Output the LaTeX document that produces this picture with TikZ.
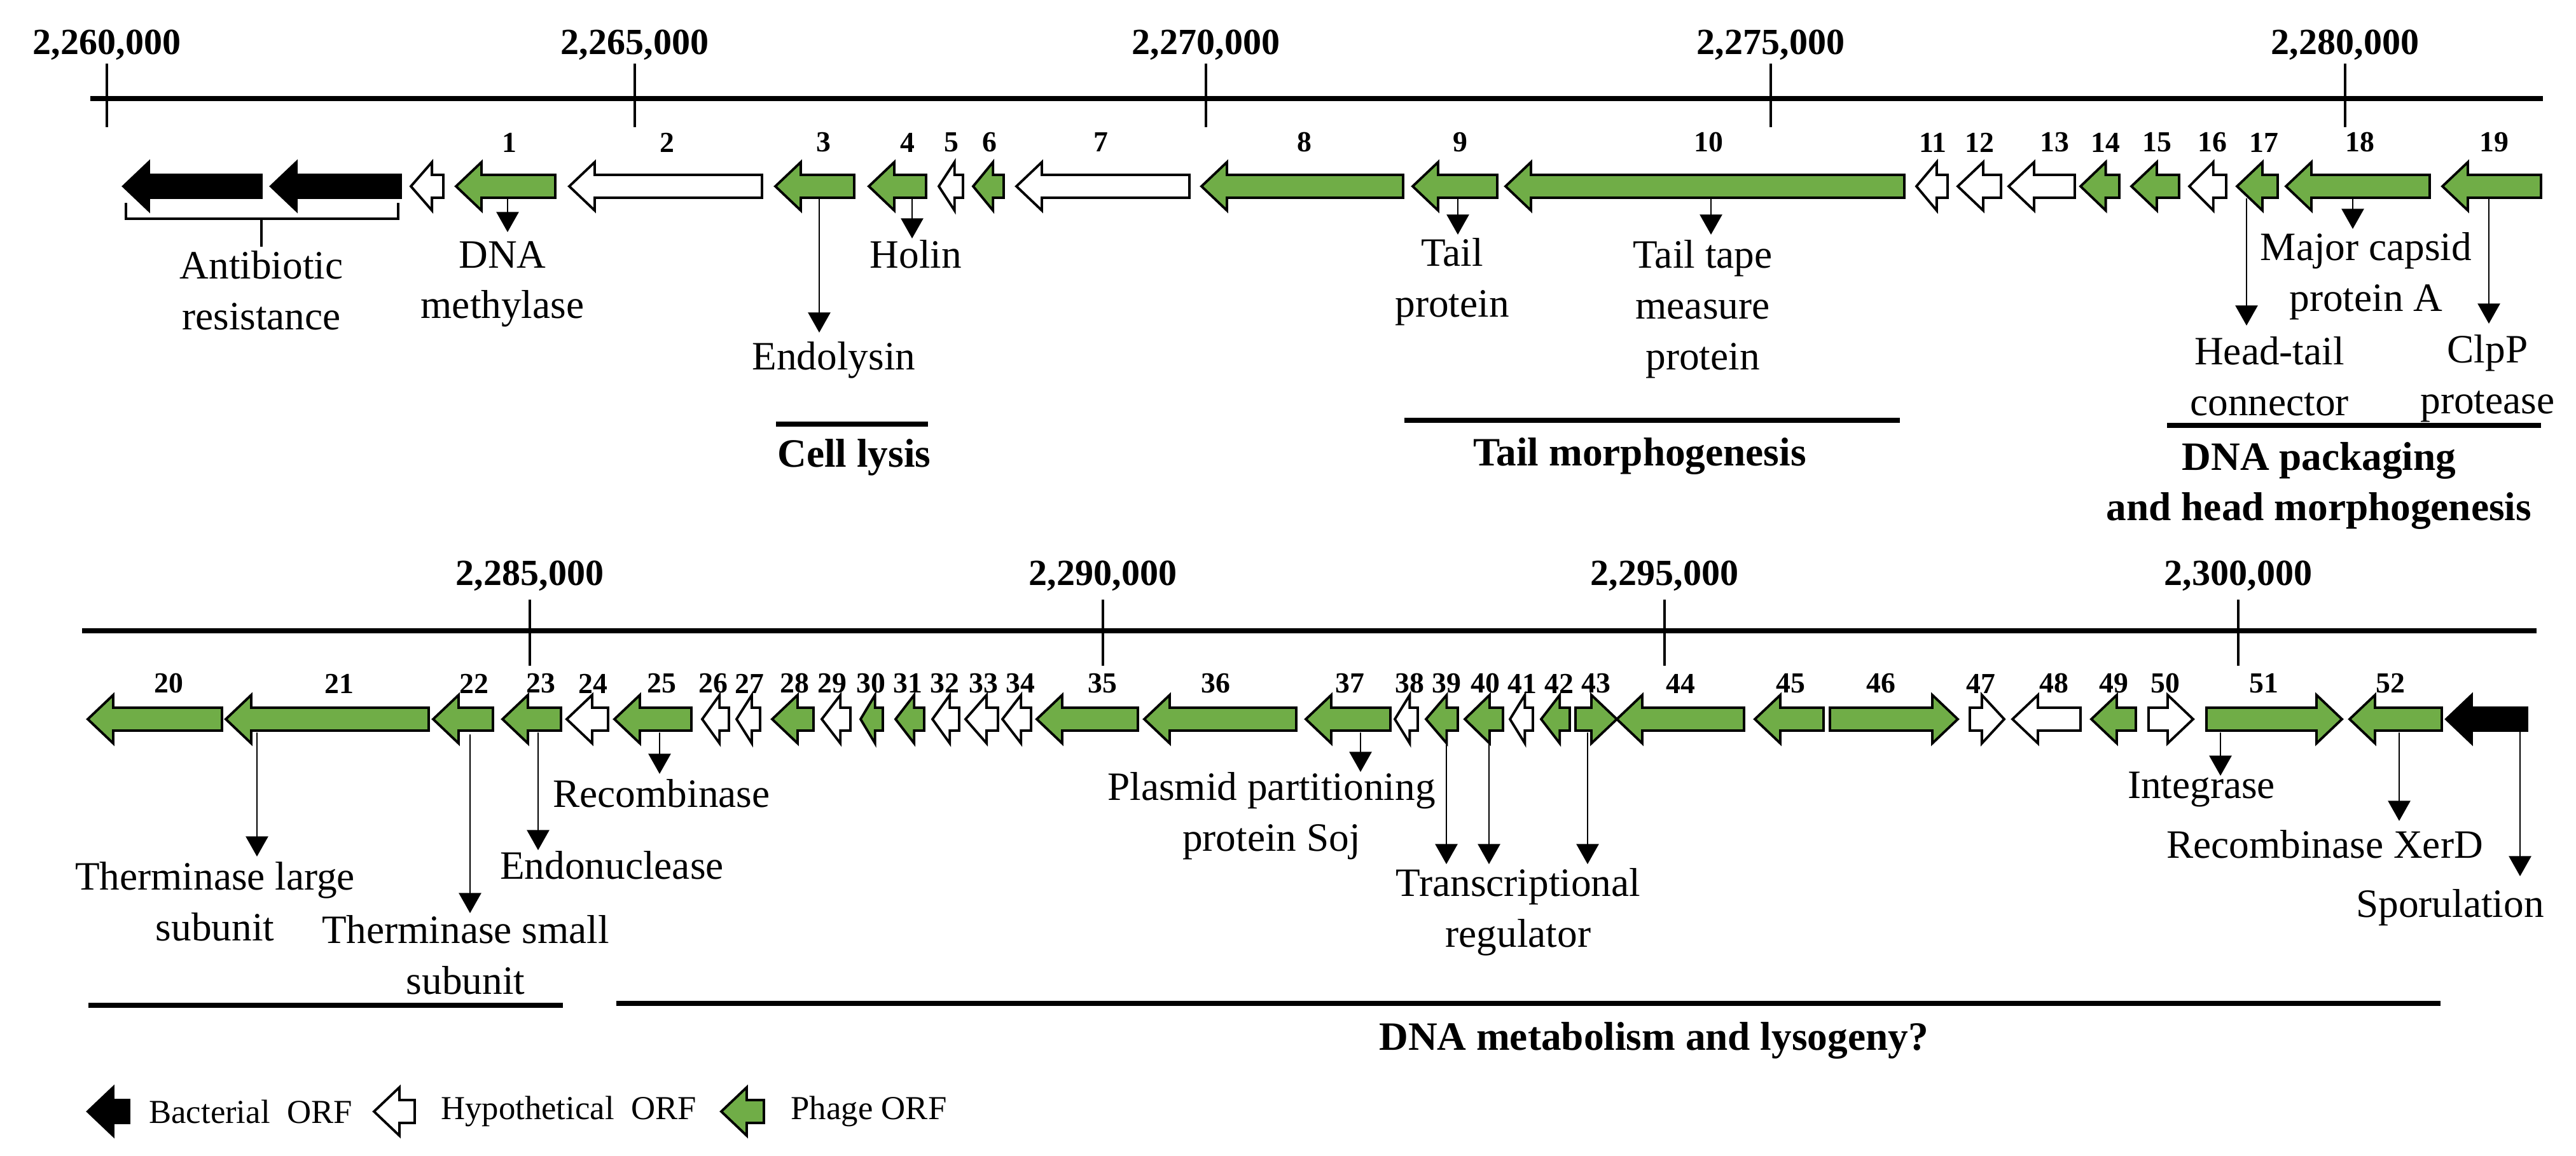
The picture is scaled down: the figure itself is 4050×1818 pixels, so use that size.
\documentclass[tikz,border=0pt]{standalone}
\usepackage{fontspec}
\setmainfont{Liberation Serif}
\usetikzlibrary{arrows.meta}
\definecolor{phage}{HTML}{70AD47}
\newcommand\gl[4]{% left-pointing: x1 x2 y fill
  \pgfmathsetmacro\hh{min(40,0.65*(#2-#1))}
  \draw[gene,fill=#4] (#1,#3) -- (#1+\hh,#3-38) -- (#1+\hh,#3-18) -- (#2,#3-18) -- (#2,#3+18) -- (#1+\hh,#3+18) -- (#1+\hh,#3+38) -- cycle;}
\newcommand\gr[4]{% right-pointing
  \pgfmathsetmacro\hh{min(40,0.65*(#2-#1))}
  \draw[gene,fill=#4] (#2,#3) -- (#2-\hh,#3-38) -- (#2-\hh,#3-18) -- (#1,#3-18) -- (#1,#3+18) -- (#2-\hh,#3+18) -- (#2-\hh,#3+38) -- cycle;}
\begin{document}
\begin{tikzpicture}[x=0.01cm,y=-0.01cm,
  gene/.style={line width=1.1pt,line join=miter},
  ann/.style={line width=0.6pt,-{Triangle[length=9pt,width=10pt]}},
  lab/.style={font=\fontsize{18}{22.7}\selectfont,align=center,inner sep=0pt},
  cat/.style={font=\fontsize{18}{22.7}\selectfont\bfseries,align=center,inner sep=0pt},
  num/.style={font=\fontsize{13}{15}\selectfont\bfseries,inner sep=0pt},
  coordlab/.style={font=\fontsize{16.5}{19}\selectfont\bfseries,inner sep=0pt},
  leg/.style={font=\fontsize{15}{18}\selectfont,inner sep=0pt},
  bar/.style={line width=2pt}]
\useasboundingbox (0,0) rectangle (4050,1818);
% ---------- top axis
\draw[line width=2pt] (142,155) -- (3998,155);
\foreach \x/\t in {168/2{,}260{,}000,998/2{,}265{,}000,1896/2{,}270{,}000,2784/2{,}275{,}000,3687/2{,}280{,}000}{
  \draw[line width=1.3pt] (\x,100) -- (\x,200);
  \node[coordlab] at (\x,71) {\t};}
% top genes
\gl{194}{411}{293}{black}
\gl{426}{630}{293}{black}
\gl{646}{697}{293}{white}
\gl{717}{873}{293}{phage}
\gl{895}{1198}{293}{white}
\gl{1219}{1343}{293}{phage}
\gl{1366}{1456}{293}{phage}
\gl{1476}{1514}{293}{white}
\gl{1530}{1578}{293}{phage}
\gl{1598}{1870}{293}{white}
\gl{1889}{2206}{293}{phage}
\gl{2221}{2354}{293}{phage}
\gl{2367}{2994}{293}{phage}
\gl{3013}{3062}{293}{white}
\gl{3078}{3146}{293}{white}
\gl{3158}{3262}{293}{white}
\gl{3271}{3332}{293}{phage}
\gl{3351}{3426}{293}{phage}
\gl{3442}{3500}{293}{white}
\gl{3517}{3581}{293}{phage}
\gl{3594}{3820}{293}{phage}
\gl{3840}{3995}{293}{phage}
\foreach \x/\n in {801/1,1049/2,1295/3,1427/4,1496/5,1556/6,1731/7,2051/8,2296/9,2686/10,3039/11,3112/12,3230/13,3310/14,3391/15,3478/16,3559/17,3710/18,3921/19}
  \node[num] at (\x,224) {\n};
% bracket
\draw[line width=1.2pt] (198,319) -- (198,344) -- (626,344) -- (626,319);
\node[lab] (ab) at (411,457) {Antibiotic\\resistance};
\draw[line width=1.2pt] (411,344) -- (411,388);
\node[lab] (dm) at (790,447) {DNA\\methylase};
\node[lab] (en) at (1311,566) {Endolysin};
\node[lab] (ho) at (1440,400) {Holin};
\node[lab] (tp) at (2283,443) {Tail\\protein};
\node[lab] (tt) at (2677,486) {Tail tape\\measure\\protein};
\node[lab] (mc) at (3720,434) {Major capsid\\protein A};
\node[lab] (ht) at (3568,592) {Head-tail\\connector};
\node[lab] (cp) at (3911,595) {ClpP\\protease};
\draw[ann] (798,311) -- (798,365);
\draw[ann] (1288,311) -- (1288,523);
\draw[ann] (1434,311) -- (1434,375);
\draw[ann] (2292,312) -- (2292,369);
\draw[ann] (2690,312) -- (2690,369);
\draw[ann] (3532,312) -- (3532,512);
\draw[ann] (3699,312) -- (3699,360);
\draw[ann] (3913,312) -- (3913,509);
\draw[bar] (1220,667) -- (1459,667);
\node[cat] at (1343,719) {Cell lysis};
\draw[bar] (2208,661) -- (2987,661);
\node[cat] at (2578,718) {Tail morphogenesis};
\draw[bar] (3407,669) -- (3995,669);
\node[cat] at (3646,764) {DNA packaging\\and head morphogenesis};
% ---------- bottom axis
\draw[line width=2pt] (129,992) -- (3988,992);
\foreach \x/\t in {833/2{,}285{,}000,1734/2{,}290{,}000,2617/2{,}295{,}000,3519/2{,}300{,}000}{
  \draw[line width=1.3pt] (\x,943) -- (\x,1047);
  \node[coordlab] at (\x,906) {\t};}
\gl{138}{349}{1131}{phage}
\gl{355}{674}{1131}{phage}
\gl{681}{775}{1131}{phage}
\gl{790}{882}{1131}{phage}
\gl{891}{956}{1131}{white}
\gl{966}{1087}{1131}{phage}
\gl{1104}{1146}{1131}{white}
\gl{1158}{1195}{1131}{white}
\gl{1214}{1279}{1131}{phage}
\gl{1292}{1337}{1131}{white}
\gl{1353}{1388}{1131}{phage}
\gl{1408}{1453}{1131}{phage}
\gl{1466}{1508}{1131}{white}
\gl{1518}{1569}{1131}{white}
\gl{1576}{1621}{1131}{white}
\gl{1630}{1789}{1131}{phage}
\gl{1799}{2038}{1131}{phage}
\gl{2053}{2186}{1131}{phage}
\gl{2193}{2229}{1131}{white}
\gl{2242}{2292}{1131}{phage}
\gl{2303}{2363}{1131}{phage}
\gl{2374}{2410}{1131}{white}
\gl{2423}{2468}{1131}{phage}
\gr{2477}{2542}{1131}{phage}
\gl{2542}{2742}{1131}{phage}
\gl{2759}{2867}{1131}{phage}
\gr{2877}{3078}{1131}{phage}
\gr{3097}{3151}{1131}{white}
\gl{3164}{3271}{1131}{white}
\gl{3288}{3358}{1131}{phage}
\gr{3378}{3448}{1131}{white}
\gr{3469}{3682}{1131}{phage}
\gl{3694}{3839}{1131}{phage}
\gl{3846}{3973}{1131}{black}
\foreach \x/\n in {265/20,533/21,745/22,850/23,932/24,1040/25,1121/26,1178/27,1249/28,1308/29,1369/30,1427/31,1485/32,1546/33,1604/34,1733/35,1911/36,2122/37,2216/38,2274/39,2335/40,2393/41,2451/42,2509/43,2642/44,2815/45,2957/46,3114/47,3229/48,3323/49,3404/50,3559/51,3758/52}
  \node[num] at (\x,1075) {\n};
\node[lab] (tl) at (338,1418) {Therminase large\\subunit};
\node[lab] (ts) at (732,1502) {Therminase small\\subunit};
\node[lab] (eo) at (962,1361) {Endonuclease};
\node[lab] (rc) at (1040,1248) {Recombinase};
\node[lab] (ps) at (1999,1283) {Plasmid partitioning\\protein Soj};
\node[lab] (tr) at (2387,1434) {Transcriptional\\regulator};
\node[lab] (ig) at (3461,1242) {Integrase};
\node[lab] (rx) at (3655,1328) {Recombinase XerD};
\node[lab] (sp) at (3852,1427) {Sporulation};
\draw[ann] (404,1152) -- (404,1347);
\draw[ann] (739,1155) -- (739,1436);
\draw[ann] (846,1152) -- (846,1337);
\draw[ann] (1037,1152) -- (1037,1217);
\draw[ann] (2139,1152) -- (2139,1214);
\draw[ann] (2274,1152) -- (2274,1359);
\draw[ann] (2341,1152) -- (2341,1359);
\draw[ann] (2496,1152) -- (2496,1359);
\draw[ann] (3491,1152) -- (3491,1220);
\draw[ann] (3772,1152) -- (3772,1291);
\draw[ann] (3962,1131) -- (3962,1378);
\draw[bar] (139,1581) -- (885,1581);
\draw[bar] (969,1578) -- (3837,1578);
\node[cat] at (2600,1637) {DNA metabolism and lysogeny?};
% ---------- legend
\gl{138}{203}{1748}{black}
\node[leg] at (394,1748) {Bacterial\ \ ORF};
\gl{588}{652}{1748}{white}
\node[leg] at (894,1748) {Hypothetical\ \ ORF};
\gl{1134}{1201}{1748}{phage}
\node[leg] at (1366,1748) {Phage ORF};
\end{tikzpicture}
\end{document}
